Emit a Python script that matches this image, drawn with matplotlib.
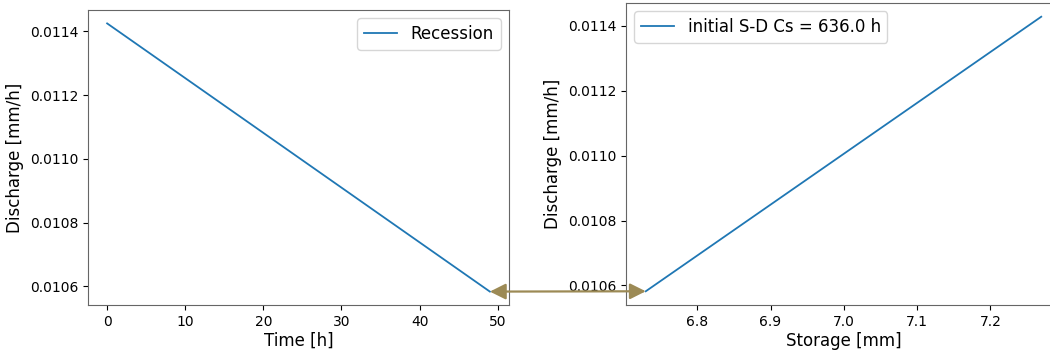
import matplotlib
matplotlib.use("Agg")
import matplotlib.pyplot as plt
from matplotlib.patches import ConnectionPatch

# recession (time vs discharge)
time_h = [0, 49]
discharge_rec = [0.011425, 0.010584]

# storage-discharge relation
storage_mm = [6.7297, 7.2694]
discharge_sd = [0.010582, 0.011428]
cs_hours = 636.0

arrow_color = "#9c8a55"

fig = plt.figure(figsize=(10.5, 3.53), dpi=100)
ax1 = fig.add_axes([88 / 1050, 48 / 353, 421 / 1050, 295 / 353])
ax2 = fig.add_axes([626 / 1050, 48 / 353, 435 / 1050, 302 / 353])

ax1.plot(time_h, discharge_rec, color="#1f77b4", lw=1.3, label="Recession")
ax1.set_xlabel("Time [h]", fontsize=12, labelpad=2)
ax1.set_ylabel("Discharge [mm/h]", fontsize=12)
ax1.set_yticks([0.0106, 0.0108, 0.0110, 0.0112, 0.0114])
ax1.set_yticklabels(["0.0106", "0.0108", "0.0110", "0.0112", "0.0114"])
ax1.set_xticks([0, 10, 20, 30, 40, 50])
ax1.legend(fontsize=12, loc="upper right")

ax2.plot(storage_mm, discharge_sd, color="#1f77b4", lw=1.3,
         label=f"initial S-D Cs = {cs_hours} h")
ax2.set_xlabel("Storage [mm]", fontsize=12, labelpad=2)
ax2.set_ylabel("Discharge [mm/h]", fontsize=12)
ax2.set_yticks([0.0106, 0.0108, 0.0110, 0.0112, 0.0114])
ax2.set_yticklabels(["0.0106", "0.0108", "0.0110", "0.0112", "0.0114"])
ax2.set_xticks([6.8, 6.9, 7.0, 7.1, 7.2])
ax2.legend(fontsize=12, loc="upper left")

for ax in (ax1, ax2):
    ax.tick_params(labelsize=10)
    for sp in ax.spines.values():
        sp.set_color("#666666")

# arrow joining end of recession with start of storage-discharge line
con = ConnectionPatch(xyA=(time_h[-1], discharge_rec[-1]), coordsA=ax1.transData,
                      xyB=(storage_mm[0], discharge_sd[0]), coordsB=ax2.transData,
                      arrowstyle="<|-|>", mutation_scale=24, lw=1.6,
                      color=arrow_color, shrinkA=0, shrinkB=0)
fig.add_artist(con)

fig.savefig("out.png", dpi=100)
